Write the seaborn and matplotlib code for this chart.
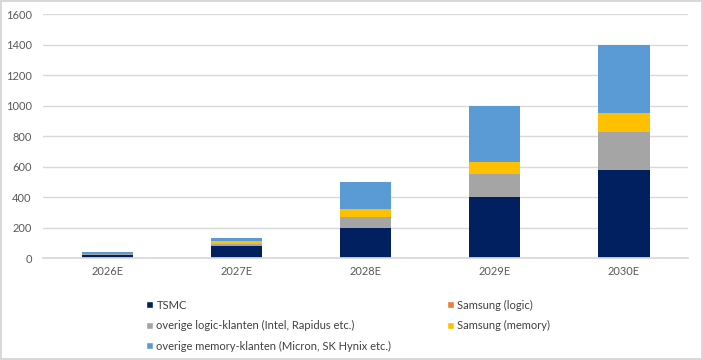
import matplotlib
matplotlib.use("Agg")
import matplotlib.pyplot as plt
from matplotlib.patches import Patch
import numpy as np
import pandas as pd
import seaborn as sns

sns.set_theme(style="white")
plt.rcParams['font.family'] = ['Lato', 'DejaVu Sans']

years = ["2026E", "2027E", "2028E", "2029E", "2030E"]
series = ["TSMC", "Samsung (logic)", "overige logic-klanten (Intel, Rapidus etc.)",
          "Samsung (memory)", "overige memory-klanten (Micron, SK Hynix etc.)"]
tsmc = [20, 80, 200, 400, 580]
samsung_logic = [0, 0, 0, 0, 0]
other_logic = [5, 15, 70, 150, 250]
samsung_memory = [5, 15, 50, 80, 120]
other_memory = [10, 20, 180, 370, 450]
colors = ["#002060", "#ED7D31", "#A5A5A5", "#FFC000", "#5B9BD5"]

values = [tsmc, samsung_logic, other_logic, samsung_memory, other_memory]
df = pd.DataFrame({s: v for s, v in zip(series, values)}, index=years)
cum = df.cumsum(axis=1)

fig = plt.figure(figsize=(7.03, 3.6), dpi=100)
fig.patch.set_edgecolor("#D9D9D9")
fig.patch.set_linewidth(1.5)
ax = fig.add_axes([0.061, 0.283, 0.918, 0.678])

# draw cumulative totals from top down so each layer covers the one above
for s, c in reversed(list(zip(series, colors))):
    sns.barplot(x=years, y=cum[s].values, color=c, width=0.4, saturation=1,
                ax=ax, linewidth=0)

ax.set_ylim(0, 1600)
ax.set_yticks(np.arange(0, 1601, 200))
ax.yaxis.grid(True, color="#D9D9D9", linewidth=1)
ax.set_axisbelow(True)
for sp in ["top", "right", "left"]:
    ax.spines[sp].set_visible(False)
ax.spines["bottom"].set_color("#D9D9D9")
ax.tick_params(axis="both", labelsize=8, colors="#595959", length=0)
ax.tick_params(axis="x", pad=6)
ax.tick_params(axis="y", pad=8)
ax.set_xlabel("")
ax.set_ylabel("")

order = [0, 2, 4, 1, 3]
handles = [Patch(facecolor=colors[i], label=series[i]) for i in order]
fig.legend(handles=handles, ncol=2, loc="upper left", bbox_to_anchor=(0.194, 0.195),
           frameon=False, fontsize=8, handlelength=0.6, handleheight=0.6,
           handletextpad=0.3, labelspacing=0.85, columnspacing=5.0,
           labelcolor="#404040")

fig.savefig("out.png", dpi=100)
